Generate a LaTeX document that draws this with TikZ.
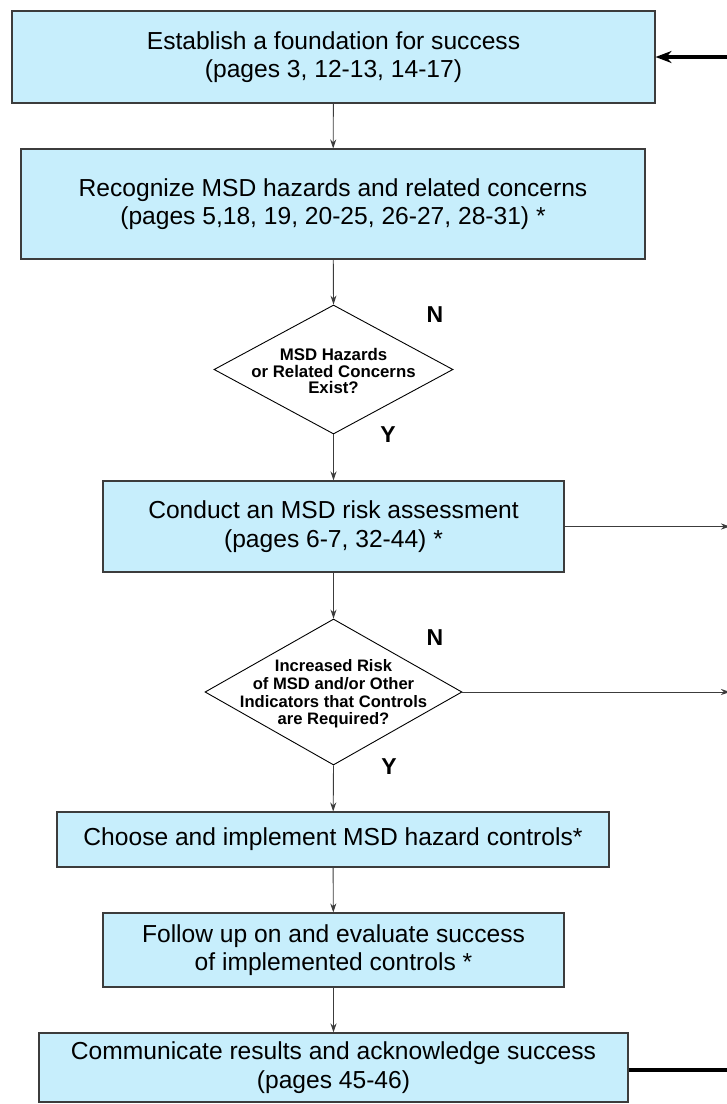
\documentclass[tikz,border=0pt]{standalone}
\usepackage{fontspec}
\setmainfont{Liberation Sans}
\usetikzlibrary{shapes.geometric,arrows.meta}
\definecolor{boxfill}{RGB}{199,238,252}
\definecolor{edge}{RGB}{60,60,60}
\tikzset{
  stepbox/.style={draw=edge, line width=1.1pt, fill=boxfill, inner sep=0pt, align=center,
    font=\fontsize{24.6}{28.5}\selectfont},
  dia/.style={draw=black, line width=0.9pt, fill=white, shape=diamond, inner sep=0pt},
  dtext/.style={align=center, inner sep=0pt},
  yn/.style={font=\bfseries\fontsize{23}{23}\selectfont, inner sep=0pt},
  flow/.style={draw=edge, line width=0.9pt, -{Stealth[length=9pt,width=6pt]}},
  thickline/.style={draw=black, line width=3.8pt},
}
\begin{document}
\begin{tikzpicture}[x=1pt,y=-1pt]
\useasboundingbox (0,0) rectangle (727,1104);
\node[stepbox, minimum width=643pt, minimum height=92pt] (b1) at (333.5,57)
  {Establish a foundation for success\\(pages 3, 12-13, 14-17)};
\node[stepbox, minimum width=624pt, minimum height=110pt] (b2) at (333,204)
  {Recognize MSD hazards and related concerns\\(pages 5,18, 19, 20-25, 26-27, 28-31) *};
\node[dia, minimum width=239pt, minimum height=129pt] (d1) at (333.5,369.5) {};
\node[dtext, font=\bfseries\fontsize{16.8}{16.2}\selectfont] (d1t) at (333.5,371)
  {MSD Hazards\\or Related Concerns\\Exist?};
\node[stepbox, minimum width=461pt, minimum height=91pt] (b3) at (333.5,526.5)
  {Conduct an MSD risk assessment\\(pages 6-7, 32-44) *};
\node[dia, minimum width=257pt, minimum height=146pt] (d2) at (333.5,692) {};
\node[dtext, font=\bfseries\fontsize{16.6}{17.6}\selectfont] (d2t) at (333.5,694)
  {Increased Risk\\of MSD and/or Other\\Indicators that Controls\\are Required?};
\node[stepbox, minimum width=552pt, minimum height=55pt] (b4) at (333,839.5)
  {Choose and implement MSD hazard controls*};
\node[stepbox, minimum width=461pt, minimum height=74pt] (b5) at (333.5,950)
  {Follow up on and evaluate success\\of implemented controls *};
\node[stepbox, minimum width=589pt, minimum height=69pt] (b6) at (333.5,1067.5)
  {Communicate results and acknowledge success\\(pages 45-46)};

\node[yn] (n1) at (435,315) {N};
\node[yn] (y1) at (388,435) {Y};
\node[yn] (n2) at (435,638) {N};
\node[yn] (y2) at (389,767) {Y};

\draw[flow] (b1) -- (b2);
\draw[flow] (b2) -- (d1.north);
\draw[flow] (d1.south) -- (b3);
\draw[flow] (b3) -- (d2.north);
\draw[flow] (d2.south) -- (b4);
\draw[flow] (b4) -- (b5);
\draw[flow] (b5) -- (b6);

\coordinate (r3) at (730,526.5);
\coordinate (rd2) at (730,692);
\coordinate (rtop) at (727,57);
\coordinate (rbot) at (727,1070);
\draw[flow] (b3.east) -- (r3);
\draw[flow] (d2.east) -- (rd2);
\draw[thickline, -{Stealth[length=16pt,width=12pt]}] (rtop) -- (b1.east);
\draw[thickline] (b6.east |- rbot) -- (rbot);
\end{tikzpicture}
\end{document}
